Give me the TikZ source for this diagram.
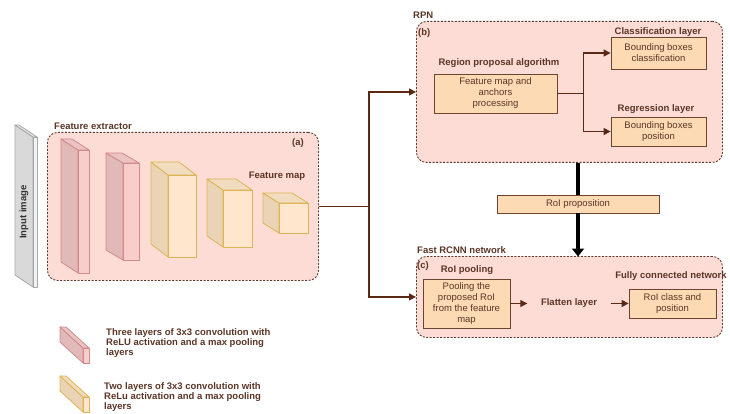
\documentclass[tikz,border=0pt]{standalone}
\usepackage{fontspec}
\setmainfont{Liberation Sans}
\usetikzlibrary{arrows.meta}
\definecolor{contfill}{HTML}{FDDCD5}
\definecolor{contdraw}{HTML}{5A3A2A}
\definecolor{boxfill}{HTML}{FCDAB3}
\definecolor{boxdraw}{HTML}{6E4430}
\definecolor{txt}{HTML}{5B3526}
\definecolor{arr}{HTML}{5B2816}
\definecolor{pinkS}{HTML}{E2B9B9}
\definecolor{pinkT}{HTML}{EBC3C3}
\definecolor{pinkF}{HTML}{F8CECC}
\definecolor{pinkD}{HTML}{D08A8A}
\definecolor{yelS}{HTML}{EBD3B5}
\definecolor{yelT}{HTML}{F2DCC0}
\definecolor{yelF}{HTML}{FFE6CC}
\definecolor{yelD}{HTML}{DDB555}
\definecolor{grayS}{HTML}{D9D9D9}
\definecolor{grayT}{HTML}{E6E6E6}
\definecolor{grayF}{HTML}{F2F2F2}
\definecolor{grayD}{HTML}{A6A6A6}
% #1 colour prefix, #2 x1, #3 y1, #4 x2, #5 y2 (front face), #6 dx, #7 dy (depth)
\newcommand{\drawbox}[7]{%
  \filldraw[draw=#1D, fill=#1S, line join=round, line width=0.8pt]
    (#2,#3) -- ({#2+(#6)},{#3+(#7)}) -- ({#2+(#6)},{#5+(#7)}) -- (#2,#5) -- cycle;
  \filldraw[draw=#1D, fill=#1T, line join=round, line width=0.8pt]
    (#2,#3) -- ({#2+(#6)},{#3+(#7)}) -- ({#4+(#6)},{#3+(#7)}) -- (#4,#3) -- cycle;
  \filldraw[draw=#1D, fill=#1F, line join=round, line width=0.8pt]
    (#2,#3) rectangle (#4,#5);
}
\tikzset{
  container/.style={draw=contdraw, fill=contfill, dashed, dash pattern=on 2pt off 1.5pt,
    line width=0.9pt, rounded corners=10pt, inner sep=0pt, anchor=north west},
  procbox/.style={draw=boxdraw, fill=boxfill, line width=0.8pt, text=txt, align=center,
    inner sep=1pt},
  title/.style={text=txt, font=\fontsize{9.5}{11}\selectfont\bfseries, inner sep=0pt},
  conn/.style={draw=arr, line width=1.2pt, -{Triangle[length=7pt,width=7pt]}},
  plainconn/.style={draw=arr, line width=1.2pt},
  bigarrow/.style={draw=black, line width=4pt},
}
\begin{document}
\begin{tikzpicture}[x=1pt, y=-1pt, font=\fontsize{9.5}{11}\selectfont]
\useasboundingbox (0,0) rectangle (730,414);

% containers
\node[container, minimum width=271pt, minimum height=148pt] (fe) at (47,132) {};
\node[container, minimum width=306pt, minimum height=141pt] (rpn) at (416,21) {};
\node[container, minimum width=306pt, minimum height=81pt] (fast) at (416,256) {};

% input image slab
\drawbox{gray}{33}{137}{37}{287}{-18}{-12}
\node[text=black!80, font=\fontsize{9.5}{11}\selectfont\bfseries, rotate=90, inner sep=0pt] (inp) at (24,212) {Input image};

% feature extractor cubes
\drawbox{pink}{78}{150}{89}{273}{-17}{-11}
\drawbox{pink}{123}{163}{139}{260}{-17}{-10}
\drawbox{yel}{168}{175}{196}{257}{-17}{-13}
\drawbox{yel}{223}{190}{252}{247}{-16}{-11}
\drawbox{yel}{279}{203}{308}{233}{-16}{-10}

% titles
\node[title, anchor=west] (tfe) at (54,126) {Feature extractor};
\node[title] (ta) at (298,143) {(a)};
\node[title] (tfm) at (277,176) {Feature map};
\node[title, anchor=west] (trpn) at (413,15) {RPN};
\node[title, anchor=west] (tb) at (418,33) {(b)};
\node[title] (trpa) at (499,63) {Region proposal algorithm};
\node[title] (tcl) at (658,32) {Classification layer};
\node[title] (trl) at (656,109) {Regression layer};
\node[title, anchor=west] (tfast) at (417,250) {Fast RCNN network};
\node[title, anchor=west] (tc) at (417,266) {(c)};
\node[title] (tpool) at (467,270) {RoI pooling};
\node[title] (tfc) at (671,276) {Fully connected network};

% process boxes
\node[procbox, minimum width=123pt, minimum height=39pt] (fm) at (495.5,93.5) {Feature map and\\anchors\\processing};
\node[procbox, minimum width=95pt, minimum height=32pt] (bbc) at (658.5,53) {Bounding boxes\\classification};
\node[procbox, minimum width=95pt, minimum height=29pt] (bbp) at (658.5,131.5) {Bounding boxes\\position};
\node[procbox, minimum width=87pt, minimum height=49pt] (pool) at (466.5,303.5) {Pooling the\\proposed RoI\\from the feature\\map};
\node[title, inner xsep=13.5pt, inner ysep=2pt] (flat) at (569,303.5) {Flatten layer};
\node[procbox, minimum width=87pt, minimum height=29pt] (cls) at (672.5,303.5) {RoI class and\\position};

% connectors
\draw[plainconn] (fe.east) -- ++(50,0) coordinate (j1);
\draw[conn] (j1) |- (rpn.west);
\draw[conn] (j1) |- (fast.west);
\draw[plainconn] (fm.east) -- ++(26,0) coordinate (j2);
\draw[conn] (j2) |- (bbc.west);
\draw[conn] (j2) |- (bbp.west);
\draw[conn] (pool.east) -- (flat.west);
\draw[conn] (flat.east) -- (cls.west);

% RoI proposition
\node[procbox, minimum width=162pt, minimum height=18pt] (roi) at (578,204) {RoI proposition};
\draw[bigarrow] (roi.north |- rpn.south) -- (roi.north);
\draw[bigarrow, -{Triangle[length=8pt,width=12pt]}] (roi.south) -- ([yshift=-0.5pt]roi.south |- fast.north);

% legend
\drawbox{pink}{83}{348}{89}{363}{-23}{-21}
\node[title, anchor=west, align=left, font=\fontsize{9.5}{10}\selectfont\bfseries] (leg1) at (106,343) {Three layers of 3x3 convolution with\\ReLU activation and a max pooling\\layers};
\drawbox{yel}{83}{397}{89}{412}{-23}{-21}
\node[title, anchor=west, align=left, font=\fontsize{9.5}{10}\selectfont\bfseries] (leg2) at (104,397) {Two layers of 3x3 convolution with\\ReLu activation and a max pooling\\layers};
\end{tikzpicture}
\end{document}
